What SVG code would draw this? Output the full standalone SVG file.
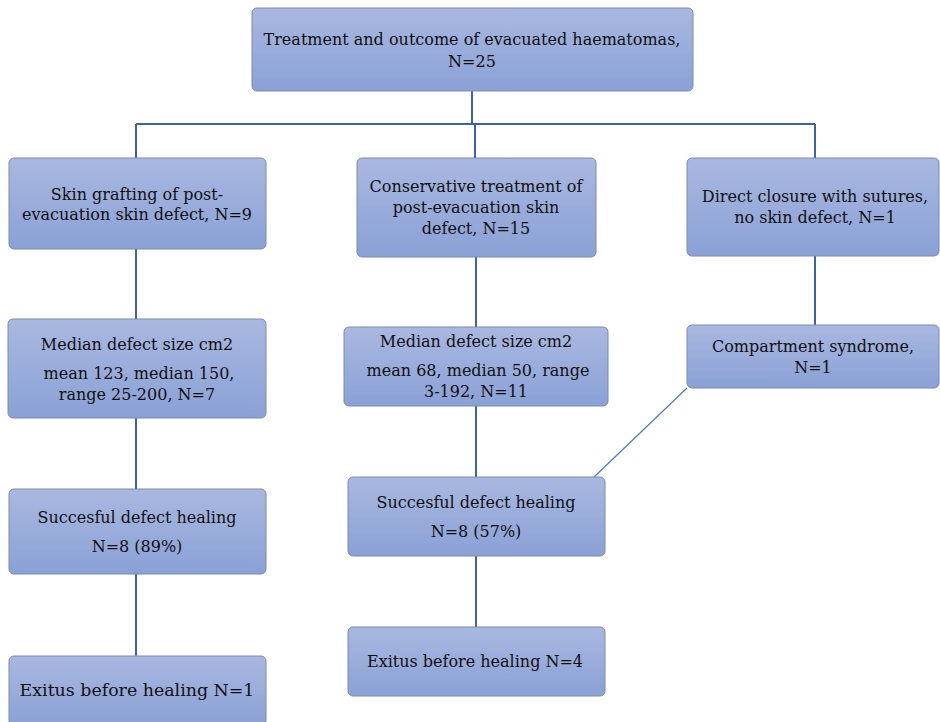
<svg xmlns="http://www.w3.org/2000/svg" width="940" height="722" viewBox="0 0 940 722">
<defs>
<linearGradient id="g" x1="0" y1="0" x2="0" y2="1">
<stop offset="0" stop-color="#a9b8e0"/>
<stop offset="1" stop-color="#8aa1d6"/>
</linearGradient>
<style>
.box{fill:url(#g);stroke:#7f8aa6;stroke-width:1}
.c{stroke:#3b62b0;stroke-width:2;fill:none}
.d{stroke:#4a78cc;stroke-width:1.2;fill:none}
</style>
</defs>
<rect width="940" height="722" fill="#fff"/>
<g id="connectors">
<path class="c" d="M472 91V124M136 124H815M475 124V158M136 124V158M815 124V158"/>
<path class="c" d="M136 249V319M136 418V489M136 574V656"/>
<path class="c" d="M476 257V327M476 406V477M476 556V627"/>
<path class="c" d="M815 256V325"/>
<path class="d" d="M687 388L593 478"/>
</g>
<g font-family="DejaVu Serif, serif" font-size="16" fill="#111" text-anchor="middle">
<g id="n-top"><rect class="box" x="252" y="8" width="441" height="83" rx="5"/>
<text x="472" y="45">Treatment and outcome of evacuated haematomas,</text>
<text x="472" y="67">N=25</text></g>
<g id="n-graft"><rect class="box" x="9" y="158" width="257" height="91" rx="5"/>
<text x="137" y="200">Skin grafting of post-</text>
<text x="137" y="220">evacuation skin defect, N=9</text></g>
<g id="n-cons"><rect class="box" x="357" y="158" width="239" height="99" rx="5"/>
<text x="476" y="192">Conservative treatment of</text>
<text x="476" y="213">post-evacuation skin</text>
<text x="476" y="234">defect, N=15</text></g>
<g id="n-direct"><rect class="box" x="687" y="158" width="252" height="98" rx="5"/>
<text x="815" y="202">Direct closure with sutures,</text>
<text x="815" y="223">no skin defect, N=1</text></g>
<g id="n-med1"><rect class="box" x="8" y="319" width="258" height="99" rx="5"/>
<text x="137" y="350">Median defect size cm2</text>
<text x="139" y="379">mean 123, median 150,</text>
<text x="137" y="400">range 25-200, N=7</text></g>
<g id="n-med2"><rect class="box" x="344" y="327" width="264" height="79" rx="5"/>
<text x="476" y="347">Median defect size cm2</text>
<text x="478" y="376">mean 68, median 50, range</text>
<text x="476" y="397">3-192, N=11</text></g>
<g id="n-comp"><rect class="box" x="687" y="325" width="252" height="63" rx="5"/>
<text x="813" y="352">Compartment syndrome,</text>
<text x="813" y="373">N=1</text></g>
<g id="n-heal1"><rect class="box" x="9" y="489" width="257" height="85" rx="5"/>
<text x="137" y="523">Succesful defect healing</text>
<text x="137" y="552">N=8 (89%)</text></g>
<g id="n-heal2"><rect class="box" x="348" y="477" width="257" height="79" rx="5"/>
<text x="476" y="508">Succesful defect healing</text>
<text x="476" y="537">N=8 (57%)</text></g>
<g id="n-exit1"><rect class="box" x="9" y="656" width="257" height="70" rx="5"/>
<text font-size="17.4" x="137" y="696">Exitus before healing N=1</text></g>
<g id="n-exit2"><rect class="box" x="348" y="627" width="257" height="69" rx="5"/>
<text x="475" y="667">Exitus before healing N=4</text></g>
</g>
</svg>
